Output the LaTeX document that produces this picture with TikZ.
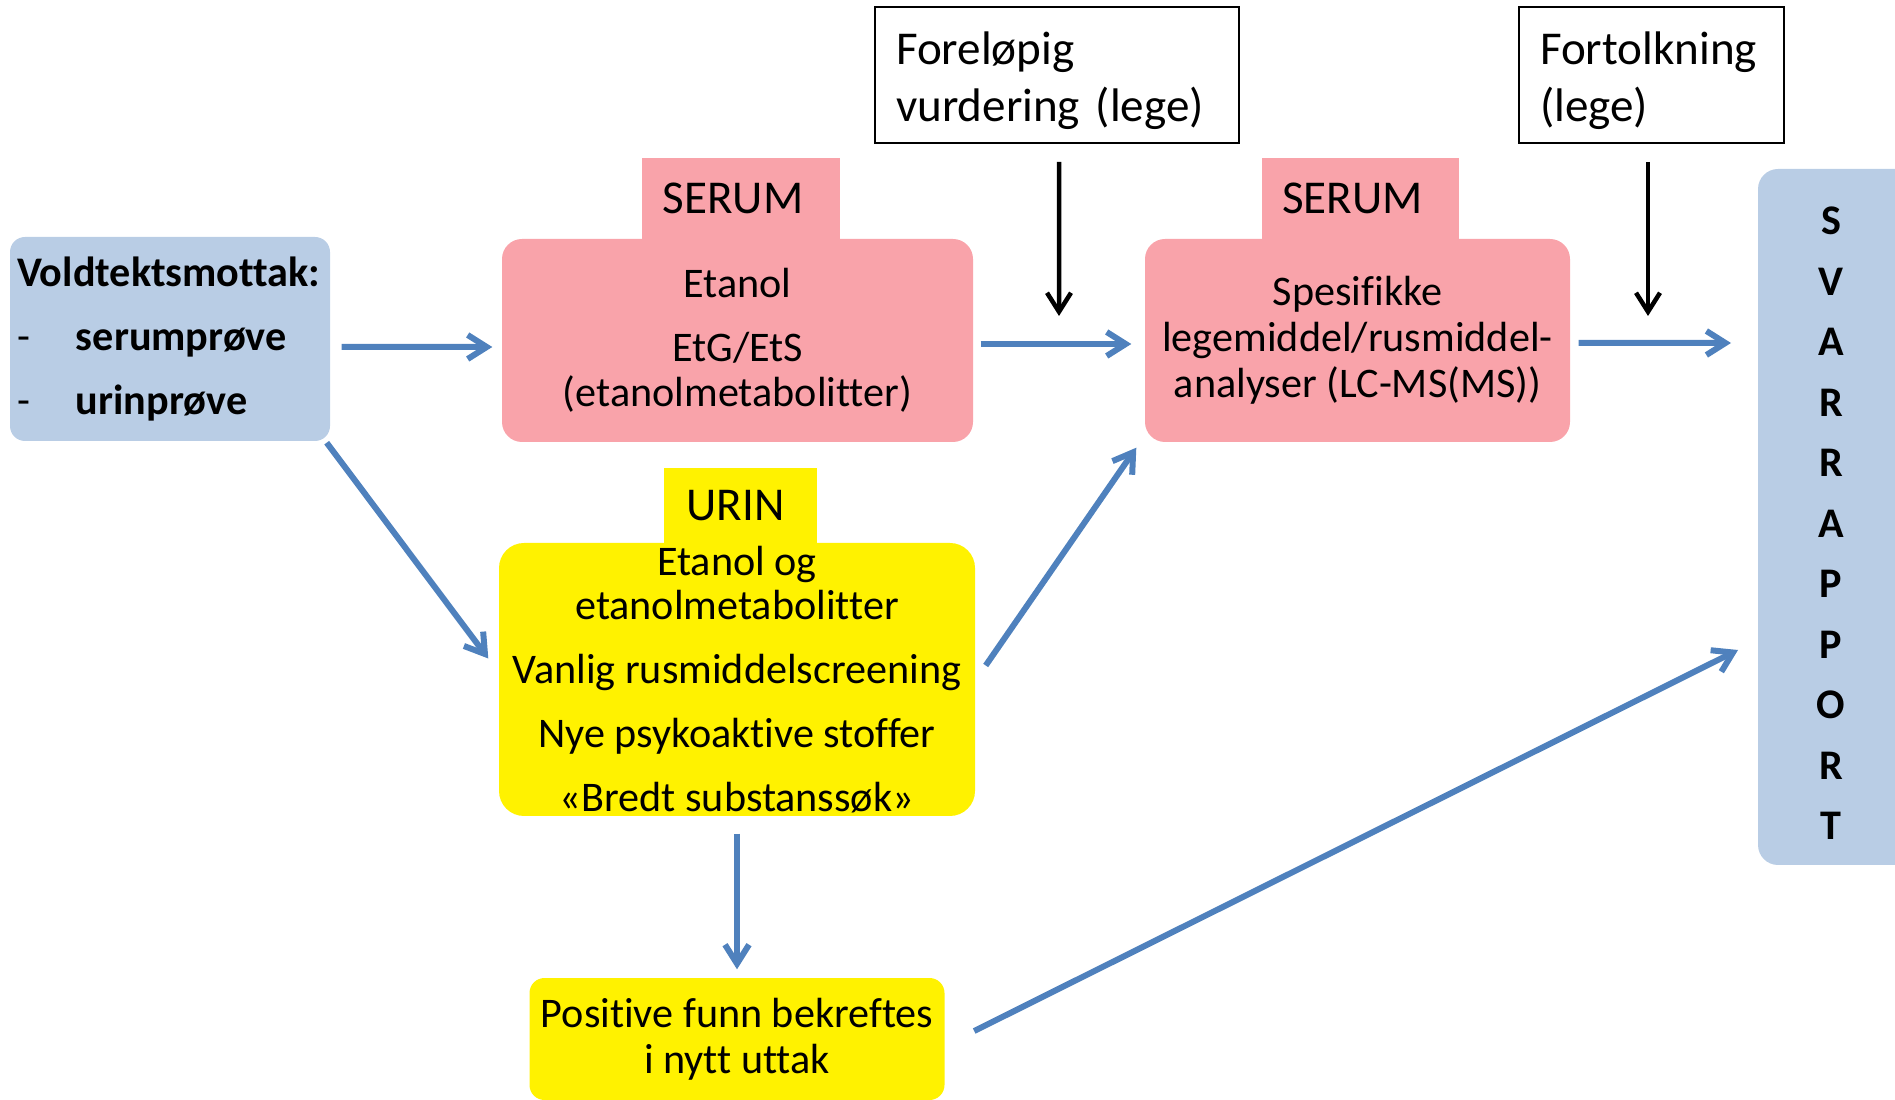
\documentclass[tikz,border=0pt]{standalone}
\usepackage{fontspec}
\setmainfont{Carlito}[Ligatures=NoCommon]
\usepackage{tikz}
\usetikzlibrary{arrows.meta,positioning}

\definecolor{boksblaa}{HTML}{B9CDE5}
\definecolor{serumrosa}{HTML}{F9A3AA}
\definecolor{pilblaa}{HTML}{4F81BD}

\begin{document}
\begin{tikzpicture}[x=0.1mm,y=-0.1mm,inner sep=0pt,
    boks/.style={rounded corners=2mm, align=center, font=\fontsize{12}{13}\selectfont},
    rosa/.style={boks, fill=serumrosa},
    gul/.style={boks, fill=yellow, rounded corners=2.5mm},
    fane/.style={font=\fontsize{13.4}{16}\selectfont},
    lege/.style={draw, line width=0.2mm, align=left, inner xsep=2.1mm,
        minimum height=13.6mm, font=\fontsize{13.4}{16.2}\selectfont},
    bokstav/.style={font=\fontsize{12}{13}\selectfont\bfseries},
    link/.style={pilblaa, line width=0.6mm, -{Straight Barb[length=1.9mm,width=2.4mm]}},
    svart/.style={line width=0.45mm, -{Straight Barb[length=1.9mm,width=2.4mm]}}]
    \useasboundingbox (0,0) rectangle (1895,1100);

    % faner bak boksene
    \node[fane, fill=serumrosa, minimum width=19.8mm, minimum height=8.1mm] (serum1) at (741,198.5) {SERUM\hspace*{1.6mm}};
    \node[fane, fill=serumrosa, minimum width=19.7mm, minimum height=8.1mm] (serum2) at (1360.5,198.5) {SERUM\hspace*{1.6mm}};
    \node[fane, fill=yellow, minimum width=15.3mm, minimum height=7.5mm] (urin) at (740.5,505.5) {URIN\hspace*{1mm}};

    \node[boks, fill=boksblaa, rounded corners=1.5mm, align=left, text width=30.6mm, inner xsep=0.7mm,
          minimum height=20.4mm, font=\fontsize{12}{18.3}\selectfont] (mottak) at (170,339)
        {\textbf{Voldtektsmottak:}\\ \makebox[5.9mm][l]{-}\textbf{serumprøve}\\ \makebox[5.9mm][l]{-}\textbf{urinprøve}};
    \node[rosa, minimum width=47.1mm, minimum height=20.3mm, font=\fontsize{12}{12.8}\selectfont] (etanol) at (737.5,340.5)
        {Etanol\\[5.4pt] EtG/EtS\\ (etanolmetabolitter)};
    \node[rosa, minimum width=42.5mm, minimum height=20.3mm, font=\fontsize{12}{13.1}\selectfont] (spes) at (1357.5,340.5)
        {Spesifikke\\ legemiddel/rusmiddel-\\ analyser (LC-MS(MS))};
    \node[gul, minimum width=47.6mm, minimum height=27.3mm, font=\fontsize{12}{12.6}\selectfont] (screen) at (737,679.5)
        {Etanol og\\ etanolmetabolitter\\[5.6pt] Vanlig rusmiddelscreening\\[5.6pt] Nye psykoaktive stoffer\\[5.4pt] «Bredt substanssøk»};
    \node[gul, rounded corners=1.5mm, minimum width=41.5mm, minimum height=12.2mm, font=\fontsize{12}{13.1}\selectfont] (bekreft) at (737,1039)
        {Positive funn bekreftes\\ i nytt uttak};

    \node[lege, text width=32.2mm] (forel) at (1057,75) {\rule{0pt}{4.4mm}Foreløpig\\ vurdering (lege)};
    \node[lege, text width=22.3mm] (fortolk) at (1651.5,75) {\rule{0pt}{4.4mm}Fortolkning\\ (lege)};

    % svarrapport
    \node[fill=boksblaa, rounded corners=2mm, minimum width=17.2mm, minimum height=69.6mm] (svar) at (1844,517) {};
    \foreach \c [count=\i] in {S,V,A,R,R,A,P,P,O,R,T}
        \node[bokstav] (l\i) at (1831,{221+60.5*(\i-1)}) {\c};

    \coordinate (inn1) at (1731,343);
    \coordinate (inn2) at (1738,650);
    \coordinate (ned1) at (1059,316);
    \coordinate (ned2) at (1648,316);

    \draw[link] ([xshift=1.1mm,yshift=-0.8mm]mottak.east) -- ([xshift=-0.9mm,yshift=-0.65mm]etanol.west);
    \draw[link] ([xshift=-0.4mm,yshift=-0.1mm]mottak.south east) -- ([xshift=-1mm,yshift=2.1mm]screen.west);
    \draw[link] ([xshift=0.7mm,yshift=-0.35mm]etanol.east) -- ([xshift=-1.3mm,yshift=-0.35mm]spes.west);
    \draw[link] ([xshift=1mm,yshift=1.4mm]screen.east) -- ([xshift=-0.8mm,yshift=-0.5mm]spes.south west);
    \draw[link] ([xshift=0.8mm,yshift=-0.25mm]spes.east) -- (inn1);
    \draw[link] ([yshift=-1.7mm]screen.south) -- ([yshift=0.8mm]bekreft.north);
    \draw[link] ([xshift=2.9mm,yshift=0.8mm]bekreft.east) -- (inn2); %skraa pil til svarrapport

    \draw[svart] ([xshift=0.2mm,yshift=-1.8mm]forel.south) -- (ned1);
    \draw[svart] ([xshift=-0.35mm,yshift=-1.8mm]fortolk.south) -- (ned2);
\end{tikzpicture}
\end{document}
